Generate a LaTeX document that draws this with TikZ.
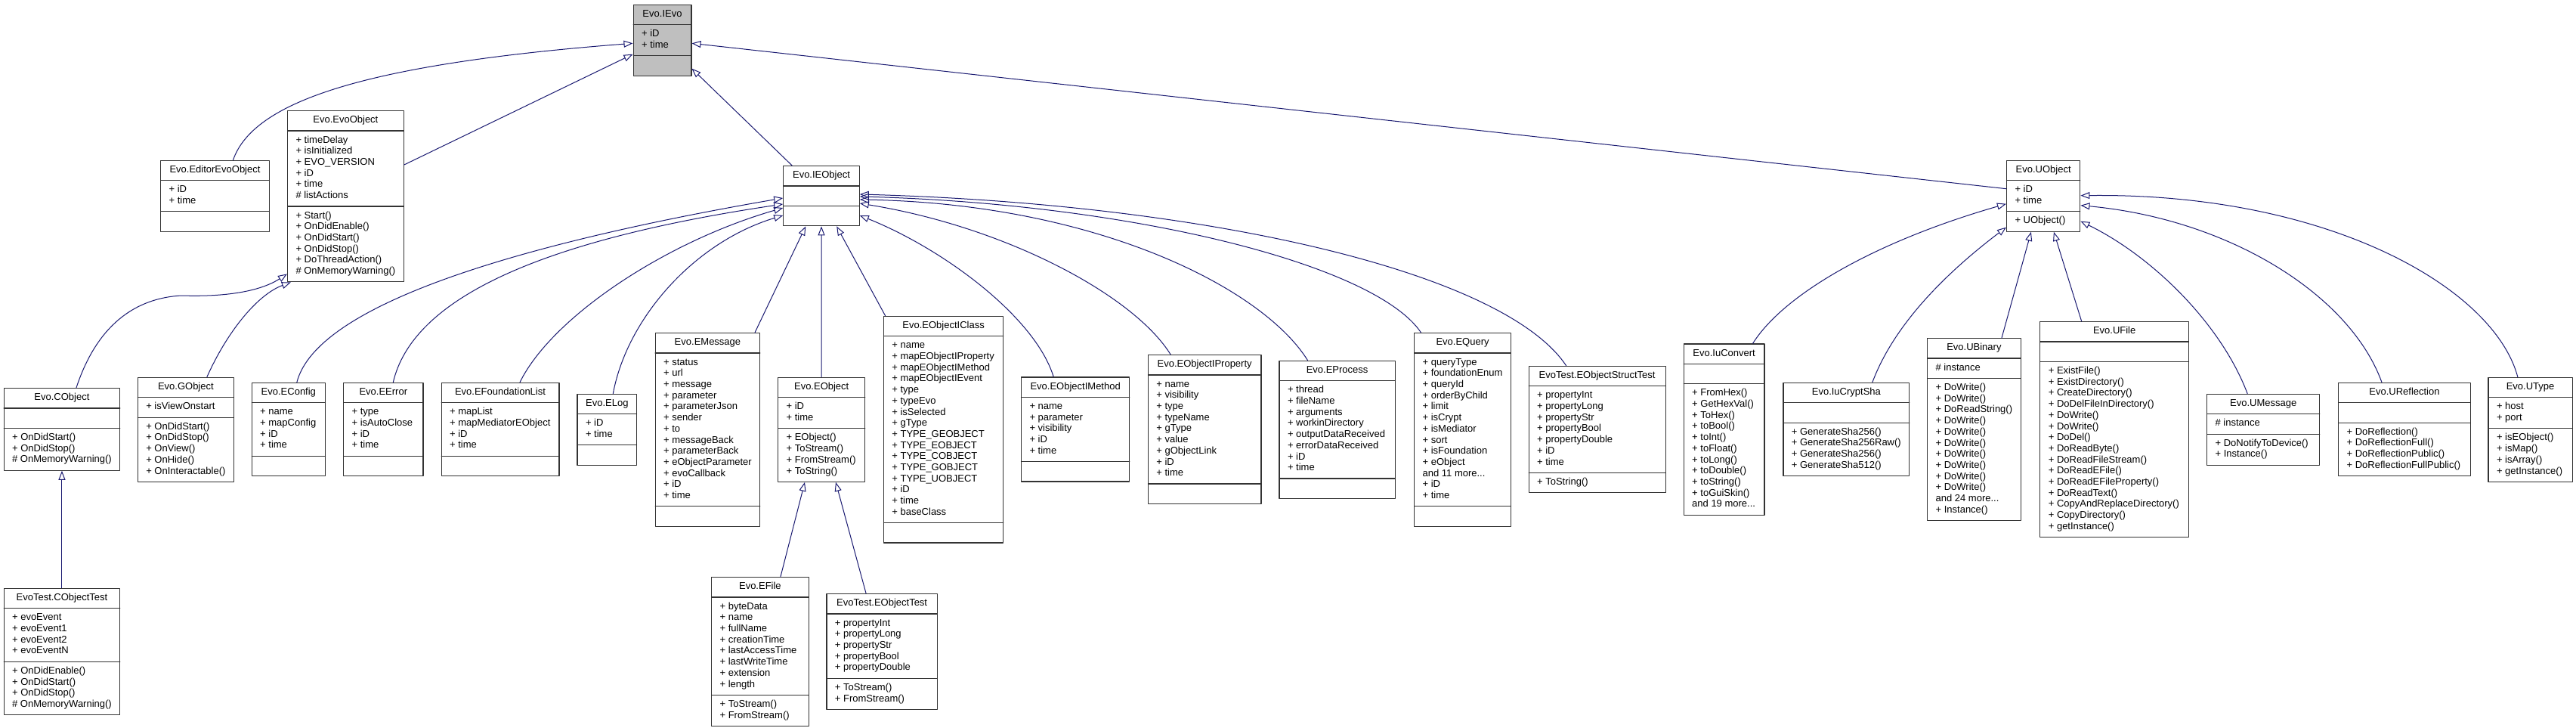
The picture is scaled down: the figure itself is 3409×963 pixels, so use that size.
\documentclass[tikz,border=0pt]{standalone}
\usepackage{fontspec}
\setmainfont{Liberation Sans}
\usetikzlibrary{arrows.meta,shapes.multipart}
\definecolor{edgeblue}{HTML}{191970}
\newcommand{\cls}[1]{\strut#1\strut}

\begin{document}
\begin{tikzpicture}[x=1pt,y=-1pt,line cap=round,line join=round,
  umlclass/.style={rectangle split,rectangle split parts=3,draw=black!80,line width=1.2pt,
    anchor=north west,inner xsep=11pt,inner ysep=5.25pt,align=left,
    rectangle split part align={center,left,left},
    font=\fontsize{13}{14.7}\selectfont},
  isa/.style={draw=edgeblue,line width=1pt,-{Triangle[open,length=12pt,width=9pt]}}]
\path[use as bounding box] (0,0) rectangle (3409,963);

\node[umlclass,fill=black!25,minimum width=76.8pt] (ievo) at (837.5,5.7)
  {\cls{Evo.IEvo}\nodepart{two}\cls{+ iD\\+ time}\nodepart{three}\cls{}};

\node[umlclass,minimum width=143.8pt] (editorevo) at (212,211.7)
  {\cls{Evo.EditorEvoObject}\nodepart{two}\cls{+ iD\\+ time}\nodepart{three}\cls{}};
\node[umlclass,minimum width=152.2pt] (evoobject) at (379.9,146)
  {\cls{Evo.EvoObject}\nodepart{two}\cls{+ timeDelay\\+ isInitialized\\+ EVO\_VERSION\\+ iD\\+ time\\\# listActions}\nodepart{three}\cls{+ Start()\\+ OnDidEnable()\\+ OnDidStart()\\+ OnDidStop()\\+ DoThreadAction()\\\# OnMemoryWarning()}};
\node[umlclass,minimum width=100.4pt] (ieobject) at (1036.2,219)
  {\cls{Evo.IEObject}\nodepart{two}\cls{}\nodepart{three}\cls{}};
\node[umlclass,minimum width=97.3pt] (uobject) at (2654.9,211.7)
  {\cls{Evo.UObject}\nodepart{two}\cls{+ iD\\+ time}\nodepart{three}\cls{+ UObject()}};

\node[umlclass,minimum width=153.1pt] (cobject) at (4.5,513)
  {\cls{Evo.CObject}\nodepart{two}\cls{}\nodepart{three}\cls{+ OnDidStart()\\+ OnDidStop()\\\# OnMemoryWarning()}};
\node[umlclass,minimum width=153.1pt] (cobjecttest) at (4.5,777.7)
  {\cls{EvoTest.CObjectTest}\nodepart{two}\cls{+ evoEvent\\+ evoEvent1\\+ evoEvent2\\+ evoEventN}\nodepart{three}\cls{+ OnDidEnable()\\+ OnDidStart()\\+ OnDidStop()\\\# OnMemoryWarning()}};
\node[umlclass,minimum width=126.8pt] (gobject) at (181.7,498.7)
  {\cls{Evo.GObject}\nodepart{two}\cls{+ isViewOnstart}\nodepart{three}\cls{+ OnDidStart()\\+ OnDidStop()\\+ OnView()\\+ OnHide()\\+ OnInteractable()}};
\node[umlclass,minimum width=97.3pt] (econfig) at (332.6,505.7)
  {\cls{Evo.EConfig}\nodepart{two}\cls{+ name\\+ mapConfig\\+ iD\\+ time}\nodepart{three}\cls{}};
\node[umlclass,minimum width=105.4pt] (eerror) at (454,505.7)
  {\cls{Evo.EError}\nodepart{two}\cls{+ type\\+ isAutoClose\\+ iD\\+ time}\nodepart{three}\cls{}};
\node[umlclass,minimum width=155.8pt] (efoundationlist) at (583.5,505.7)
  {\cls{Evo.EFoundationList}\nodepart{two}\cls{+ mapList\\+ mapMediatorEObject\\+ iD\\+ time}\nodepart{three}\cls{}};
\node[umlclass,minimum width=78.6pt] (elog) at (763.4,520.7)
  {\cls{Evo.ELog}\nodepart{two}\cls{+ iD\\+ time}\nodepart{three}\cls{}};
\node[umlclass,minimum width=138.4pt] (emessage) at (866.5,440)
  {\cls{Evo.EMessage}\nodepart{two}\cls{+ status\\+ url\\+ message\\+ parameter\\+ parameterJson\\+ sender\\+ to\\+ messageBack\\+ parameterBack\\+ eObjectParameter\\+ evoCallback\\+ iD\\+ time}\nodepart{three}\cls{}};
\node[umlclass,minimum width=115.2pt] (eobject) at (1029,498.7)
  {\cls{Evo.EObject}\nodepart{two}\cls{+ iD\\+ time}\nodepart{three}\cls{+ EObject()\\+ ToStream()\\+ FromStream()\\+ ToString()}};
\node[umlclass,minimum width=128.6pt] (efile) at (941,763)
  {\cls{Evo.EFile}\nodepart{two}\cls{+ byteData\\+ name\\+ fullName\\+ creationTime\\+ lastAccessTime\\+ lastWriteTime\\+ extension\\+ length}\nodepart{three}\cls{+ ToStream()\\+ FromStream()}};
\node[umlclass,minimum width=146.4pt] (eobjecttest) at (1093.3,785)
  {\cls{EvoTest.EObjectTest}\nodepart{two}\cls{+ propertyInt\\+ propertyLong\\+ propertyStr\\+ propertyBool\\+ propertyDouble}\nodepart{three}\cls{+ ToStream()\\+ FromStream()}};
\node[umlclass,minimum width=158.5pt] (eobjecticlass) at (1168.75,417.7)
  {\cls{Evo.EObjectIClass}\nodepart{two}\cls{+ name\\+ mapEObjectIProperty\\+ mapEObjectIMethod\\+ mapEObjectIEvent\\+ type\\+ typeEvo\\+ isSelected\\+ gType\\+ TYPE\_GEOBJECT\\+ TYPE\_EOBJECT\\+ TYPE\_COBJECT\\+ TYPE\_GOBJECT\\+ TYPE\_UOBJECT\\+ iD\\+ time\\+ baseClass}\nodepart{three}\cls{}};
\node[umlclass,minimum width=143.3pt] (eobjectimethod) at (1350.9,498.3)
  {\cls{Evo.EObjectIMethod}\nodepart{two}\cls{+ name\\+ parameter\\+ visibility\\+ iD\\+ time}\nodepart{three}\cls{}};
\node[umlclass,minimum width=149.6pt] (eobjectiproperty) at (1518.75,469)
  {\cls{Evo.EObjectIProperty}\nodepart{two}\cls{+ name\\+ visibility\\+ type\\+ typeName\\+ gType\\+ value\\+ gObjectLink\\+ iD\\+ time}\nodepart{three}\cls{}};
\node[umlclass,minimum width=153.1pt] (eprocess) at (1692.4,476.7)
  {\cls{Evo.EProcess}\nodepart{two}\cls{+ thread\\+ fileName\\+ arguments\\+ workinDirectory\\+ outputDataReceived\\+ errorDataReceived\\+ iD\\+ time}\nodepart{three}\cls{}};
\node[umlclass,minimum width=127.7pt] (equery) at (1871,440)
  {\cls{Evo.EQuery}\nodepart{two}\cls{+ queryType\\+ foundationEnum\\+ queryId\\+ orderByChild\\+ limit\\+ isCrypt\\+ isMediator\\+ sort\\+ isFoundation\\+ eObject\\and 11 more...\\+ iD\\+ time}\nodepart{three}\cls{}};
\node[umlclass,minimum width=181pt] (eobjectstructtest) at (2022.5,483.7)
  {\cls{EvoTest.EObjectStructTest}\nodepart{two}\cls{+ propertyInt\\+ propertyLong\\+ propertyStr\\+ propertyBool\\+ propertyDouble\\+ iD\\+ time}\nodepart{three}\cls{+ ToString()}};
\node[umlclass,minimum width=106.8pt] (iuconvert) at (2227.6,454.3)
  {\cls{Evo.IuConvert}\nodepart{two}\cls{}\nodepart{three}\cls{+ FromHex()\\+ GetHexVal()\\+ ToHex()\\+ toBool()\\+ toInt()\\+ toFloat()\\+ toLong()\\+ toDouble()\\+ toString()\\+ toGuiSkin()\\and 19 more...}};
\node[umlclass,minimum width=166.4pt] (iucryptsha) at (2359.3,505.7)
  {\cls{Evo.IuCryptSha}\nodepart{two}\cls{}\nodepart{three}\cls{+ GenerateSha256()\\+ GenerateSha256Raw()\\+ GenerateSha256()\\+ GenerateSha512()}};
\node[umlclass,minimum width=123.2pt] (ubinary) at (2550,447)
  {\cls{Evo.UBinary}\nodepart{two}\cls{\# instance}\nodepart{three}\cls{+ DoWrite()\\+ DoWrite()\\+ DoReadString()\\+ DoWrite()\\+ DoWrite()\\+ DoWrite()\\+ DoWrite()\\+ DoWrite()\\+ DoWrite()\\+ DoWrite()\\and 24 more...\\+ Instance()}};
\node[umlclass,minimum width=196.7pt] (ufile) at (2699.2,425)
  {\cls{Evo.UFile}\nodepart{two}\cls{}\nodepart{three}\cls{+ ExistFile()\\+ ExistDirectory()\\+ CreateDirectory()\\+ DoDelFileInDirectory()\\+ DoWrite()\\+ DoWrite()\\+ DoDel()\\+ DoReadByte()\\+ DoReadFileStream()\\+ DoReadEFile()\\+ DoReadEFileProperty()\\+ DoReadText()\\+ CopyAndReplaceDirectory()\\+ CopyDirectory()\\+ getInstance()}};
\node[umlclass,minimum width=149.1pt] (umessage) at (2920,520.7)
  {\cls{Evo.UMessage}\nodepart{two}\cls{\# instance}\nodepart{three}\cls{+ DoNotifyToDevice()\\+ Instance()}};
\node[umlclass,minimum width=174.7pt] (ureflection) at (3094,505.7)
  {\cls{Evo.UReflection}\nodepart{two}\cls{}\nodepart{three}\cls{+ DoReflection()\\+ DoReflectionFull()\\+ DoReflectionPublic()\\+ DoReflectionFullPublic()}};
\node[umlclass,minimum width=111.1pt] (utype) at (3292.4,498.7)
  {\cls{Evo.UType}\nodepart{two}\cls{+ host\\+ port}\nodepart{three}\cls{+ isEObject()\\+ isMap()\\+ isArray()\\+ getInstance()}};

\draw[isa] ([xshift=24pt]editorevo.north) .. controls (335,135) and (480,85) .. ([yshift=-51.6pt]ievo.north west);
\draw[isa] ([yshift=-72pt]evoobject.north east) -- ([yshift=-66pt]ievo.north west);
\draw[isa] ([xshift=12pt]ieobject.north west) -- ([yshift=-85pt]ievo.north east);
\draw[isa] ([yshift=-38pt]uobject.north west) -- ([yshift=-51.6pt]ievo.north east);

\draw[isa] ([xshift=19pt]cobject.north) .. controls (125,440) and (170,395) .. (240,391) .. controls (300,393) and (345,385) .. ([yshift=11pt]evoobject.south west);
\draw[isa] ([xshift=28pt]gobject.north) .. controls (300,440) and (340,390) .. ([xshift=5pt]evoobject.south west);
\draw[isa] (cobjecttest.north) -- (cobject.south);

\draw[isa] ([xshift=11pt]econfig.north) .. controls (420,400) and (700,320) .. ([yshift=-43pt]ieobject.north west);
\draw[isa] ([xshift=13pt]eerror.north) .. controls (545,400) and (700,320) .. ([yshift=-51pt]ieobject.north west);
\draw[isa] ([xshift=26pt]efoundationlist.north) .. controls (730,420) and (880,320) .. ([yshift=-56pt]ieobject.north west);
\draw[isa] ([xshift=8pt]elog.north) .. controls (830,420) and (920,320) .. ([yshift=-66pt]ieobject.north west);
\draw[isa] ([xshift=62.5pt]emessage.north) -- ([xshift=30pt]ieobject.south west);
\draw[isa] (eobject.north) -- (ieobject.south);
\draw[isa] ([xshift=-77pt]eobjecticlass.north) -- ([xshift=71pt]ieobject.south west);
\draw[isa] ([xshift=-29pt]eobjectimethod.north) .. controls (1370,420) and (1250,330) .. ([yshift=-66pt]ieobject.north east);
\draw[isa] ([xshift=-45pt]eobjectiproperty.north) .. controls (1500,390) and (1330,300) .. ([yshift=-50pt]ieobject.north east);
\draw[isa] ([xshift=-39pt]eprocess.north) .. controls (1670,380) and (1450,270) .. ([yshift=-45pt]ieobject.north east);
\draw[isa] ([xshift=-55pt]equery.north) .. controls (1820,350) and (1500,270) .. ([yshift=-41pt]ieobject.north east);
\draw[isa] ([xshift=-41pt]eobjectstructtest.north) .. controls (1990,360) and (1600,270) .. ([yshift=-38pt]ieobject.north east);

\draw[isa] ([xshift=27pt]efile.north) -- ([xshift=36pt]eobject.south west);
\draw[isa] ([xshift=-21pt]eobjecttest.north) -- ([xshift=77pt]eobject.south west);

\draw[isa] ([xshift=38pt]iuconvert.north) .. controls (2360,390) and (2480,320) .. ([yshift=-58pt]uobject.north west);
\draw[isa] ([xshift=34.5pt]iucryptsha.north) .. controls (2510,420) and (2590,350) .. ([yshift=-89pt]uobject.north west);
\draw[isa] ([xshift=36.6pt]ubinary.north) -- ([xshift=33pt]uobject.south west);
\draw[isa] ([xshift=-43.5pt]ufile.north) -- ([xshift=63pt]uobject.south west);
\draw[isa] ([xshift=-21pt]umessage.north) .. controls (2940,430) and (2850,340) .. ([yshift=-81pt]uobject.north east);
\draw[isa] ([xshift=-30pt]ureflection.north) .. controls (3110,390) and (2950,290) .. ([yshift=-60pt]uobject.north east);
\draw[isa] ([xshift=-16.7pt]utype.north) .. controls (3300,380) and (3080,255) .. ([yshift=-47pt]uobject.north east);
\end{tikzpicture}
\end{document}
